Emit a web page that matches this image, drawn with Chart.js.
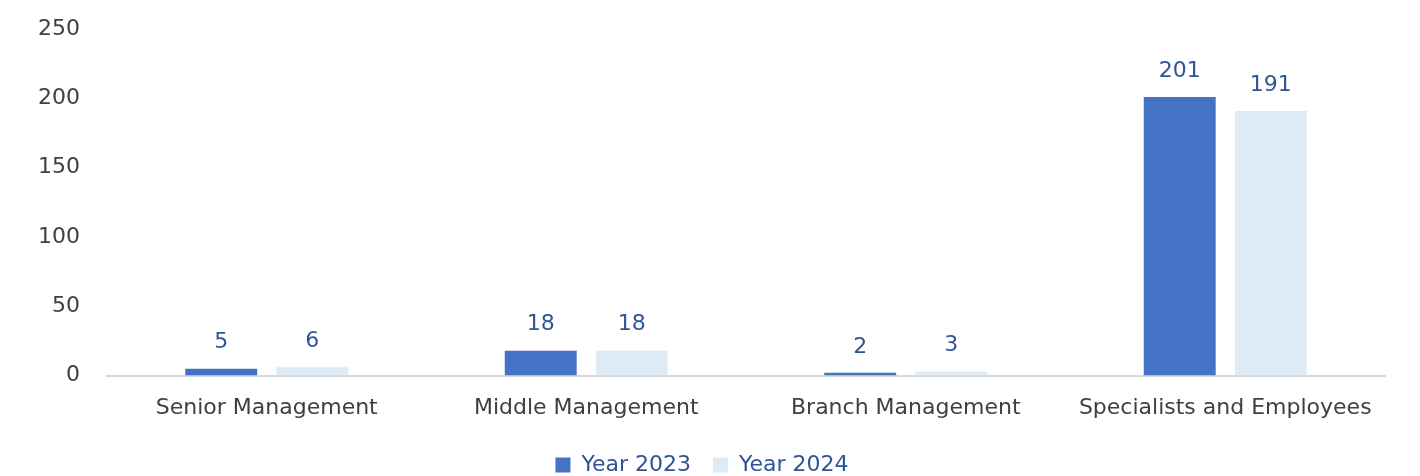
<!DOCTYPE html>
<html>
<head>
<meta charset="utf-8">
<script src="https://cdn.jsdelivr.net/npm/chart.js@4"></script>
<style>
  html, body { margin: 0; padding: 0; background: #fff; overflow: hidden; }
  #wrap { width: 1420px; height: 489px; position: relative; margin-top: -3px; }
</style>
</head>
<body>
<div id="wrap"><canvas id="myChart"></canvas></div>
<script>
const categories = ['Senior Management', 'Middle Management', 'Branch Management', 'Specialists and Employees'];
const year2023 = [5, 18, 2, 201];
const year2024 = [6, 18, 3, 191];
const yTicks = [0, 50, 100, 150, 200, 250];

const FONT = 'DejaVu Sans';
const labelBlue = '#2F5597';

// draws the value above each bar
const valueLabels = {
    id: 'valueLabels',
    afterDatasetsDraw(chart) {
        const ctx = chart.ctx;
        ctx.save();
        ctx.font = '22px "' + FONT + '"';
        ctx.fillStyle = labelBlue;
        ctx.textAlign = 'center';
        ctx.textBaseline = 'bottom';
        chart.data.datasets.forEach((ds, i) => {
            chart.getDatasetMeta(i).data.forEach((bar, j) => {
                ctx.fillText(ds.data[j], bar.x, bar.y - 15);
            });
        });
        ctx.restore();
    }
};

const ctx = document.getElementById('myChart').getContext('2d');
new Chart(ctx, {
    type: 'bar',
    data: {
        labels: categories,
        datasets: [
            { label: 'Year 2023', data: year2023, backgroundColor: '#4472C4' },
            { label: 'Year 2024', data: year2024, backgroundColor: '#DDEBF7' }
        ]
    },
    options: {
        responsive: true,
        maintainAspectRatio: false,
        animation: false,
        categoryPercentage: 0.57,
        barPercentage: 0.79,
        layout: { padding: { top: 0, left: 19, right: 35, bottom: 0 } },
        plugins: {
            tooltip: { enabled: false },
            legend: {
                position: 'bottom',
                labels: {
                    font: { family: FONT, size: 22 },
                    color: labelBlue,
                    boxWidth: 15,
                    boxHeight: 15,
                    padding: 22
                }
            }
        },
        scales: {
            x: {
                grid: { display: false },
                border: { display: true, color: '#D9D9D9', width: 2 },
                ticks: { font: { family: FONT, size: 22 }, color: '#404040', padding: 11 }
            },
            y: {
                min: 0,
                max: 250,
                afterBuildTicks: axis => { axis.ticks = yTicks.map(v => ({ value: v })); },
                grid: { display: false },
                border: { display: false },
                ticks: { font: { family: FONT, size: 22 }, color: '#404040', padding: 19 }
            }
        }
    },
    plugins: [valueLabels]
});
</script>
</body>
</html>
